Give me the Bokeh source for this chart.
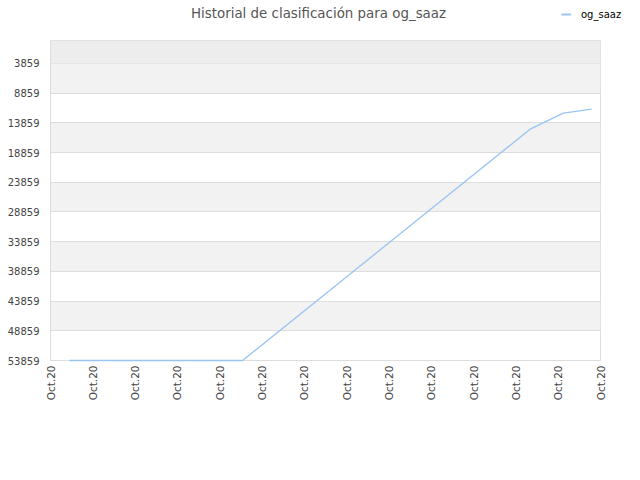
import math
from bokeh.plotting import figure
from bokeh.layouts import column
from bokeh.models import Range1d, FixedTicker, BoxAnnotation, Legend, LegendItem
from bokeh.core.properties import value
from bokeh.embed import file_html
from bokeh.resources import INLINE

# ---- data ----
title_text = "Historial de clasificación para og_saaz"
series_name = "og_saaz"
x_ticks = list(range(14))
x_labels = ["Oct.20"] * 14
y_ticks = [3859, 8859, 13859, 18859, 23859, 28859, 33859, 38859, 43859, 48859, 53859]
pos_x = [0.45, 4.54, 11.35, 12.12, 12.79]
rank = [53859, 53859, 14862, 12236, 11563]
y_top = 0
y_bottom = 53859

FONT = "DejaVu Sans"
LINE_COLOR = "#99c5f2"

# ---- header (title + legend); its frame spans page pixels 50..630 ----
head = figure(width=640, height=40, output_backend="svg", toolbar_location=None,
              x_range=Range1d(50, 630), y_range=Range1d(40, 0),
              min_border_left=50, min_border_right=10,
              min_border_top=0, min_border_bottom=0)
head.axis.visible = False
head.grid.visible = False
head.outline_line_color = None
head.background_fill_color = "white"
head.border_fill_color = "white"
head.text(x=[318], y=[13], text=[title_text], text_font=value(FONT),
          text_font_size="13.4px", text_color="#555555",
          text_align="center", text_baseline="middle")
# legend key renderer (a single point: draws nothing in the header itself)
key = head.line(x=pos_x[:1], y=rank[:1], line_color=LINE_COLOR, line_width=2)
legend = Legend(items=[LegendItem(label=series_name, renderers=[key])], location=(511, 19))
legend.border_line_color = None
legend.background_fill_alpha = 0
legend.padding = 0
legend.margin = 0
legend.spacing = 0
legend.glyph_width = 10
legend.glyph_height = 14
legend.label_height = 14
legend.label_standoff = 10
legend.label_text_font = FONT
legend.label_text_font_size = "10px"
legend.label_text_color = "#000000"
head.add_layout(legend)

# ---- main chart ----
p = figure(width=610, height=440, output_backend="svg", toolbar_location=None,
           x_range=Range1d(0, 13), y_range=Range1d(y_bottom, y_top),
           min_border_left=50, min_border_right=10, min_border_top=0, min_border_bottom=120)

p.background_fill_color = "white"
p.border_fill_color = "white"
p.outline_line_color = "#dddddd"

p.add_layout(BoxAnnotation(bottom=y_ticks[0], top=y_top, fill_color="#ededed", fill_alpha=1,
                           line_color=None, level="underlay"))

p.xgrid.grid_line_color = None
p.ygrid.ticker = FixedTicker(ticks=y_ticks)
p.ygrid.grid_line_color = "#dddddd"
p.ygrid.band_fill_color = "#f2f2f2"
p.ygrid.band_fill_alpha = 1.0

r = p.line(pos_x, rank, line_color=LINE_COLOR, line_width=1.3)
r.level = "overlay"

p.yaxis.ticker = FixedTicker(ticks=y_ticks)
p.yaxis.major_label_overrides = {t: str(t) for t in y_ticks}
p.xaxis.ticker = FixedTicker(ticks=x_ticks)
p.xaxis.major_label_overrides = {t: l for t, l in zip(x_ticks, x_labels)}
p.xaxis.major_label_orientation = math.pi / 2
for ax in (p.xaxis[0], p.yaxis[0]):
    ax.axis_line_color = "#dddddd"
    ax.major_tick_line_color = None
    ax.minor_tick_line_color = None
    ax.major_tick_out = 0
    ax.major_tick_in = 0
    ax.minor_tick_out = 0
    ax.major_label_text_font = FONT
    ax.major_label_text_color = "#444444"
p.yaxis.major_label_text_font_size = "10px"
p.yaxis.major_label_standoff = 11
p.xaxis.major_label_text_font_size = "10.5px"
p.xaxis.major_label_standoff = 5

layout = column(head, p, spacing=0)
open("out.html", "w").write(file_html(layout, INLINE))
